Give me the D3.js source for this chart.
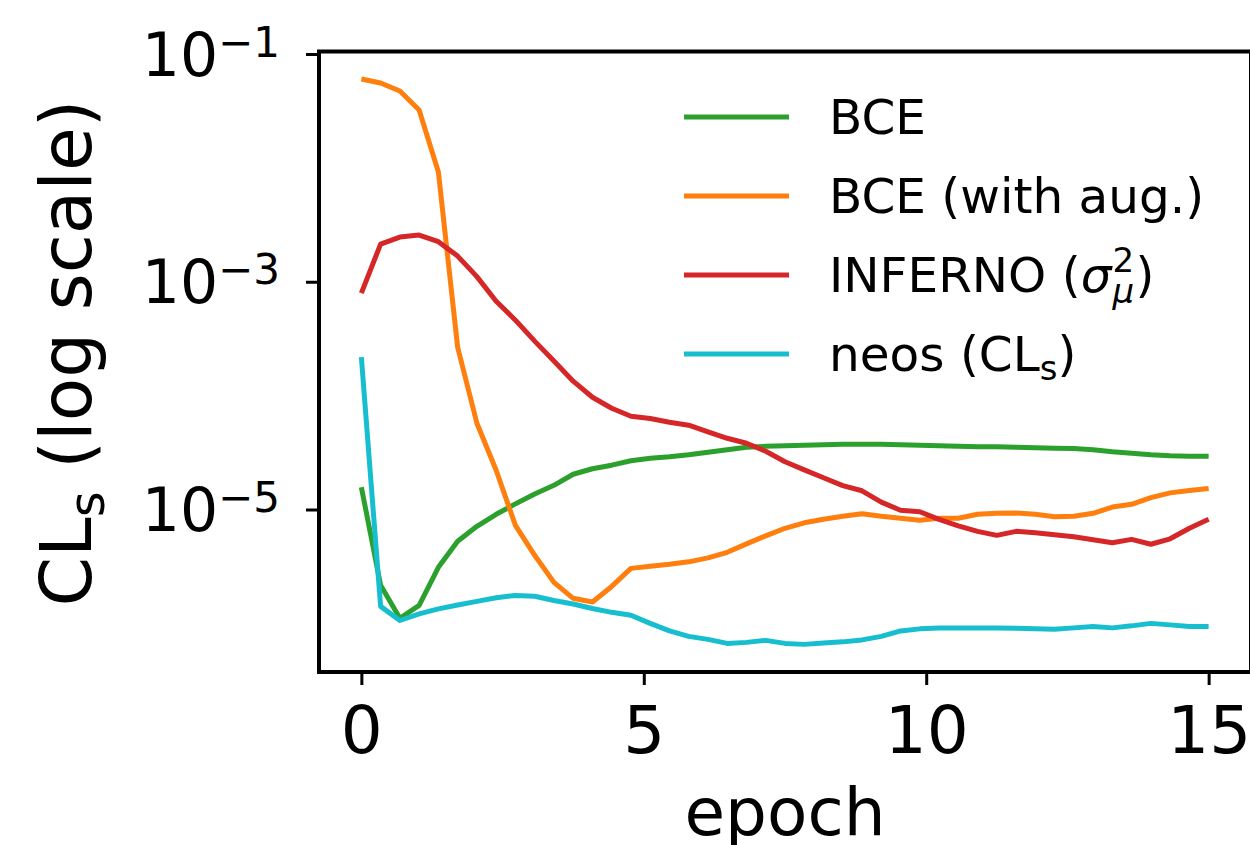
<!DOCTYPE html>
<html>

<head>
    <meta charset="utf-8" />
    <title>CLs during training</title>
    <script src="https://d3js.org/d3.v7.min.js" charset="utf-8"></script>

    <style type="text/css">
        body {
            margin: 0;
            background: #fff;
        }

        #chart svg {
            display: block;
            font-family: "DejaVu Sans", sans-serif;
        }

        #chart .line {
            fill: none;
            stroke-width: 5px;
            stroke-linejoin: round;
        }

        #chart .tick line {
            stroke: #000;
            stroke-width: 3px;
        }
    </style>
</head>

<body>

    <div id="chart"></div>

    <script>
        // 45 evaluations spread over 15 epochs
        var epochs = d3.range(45).map(function(i) {
            return i * 15 / 44
        })

        // CLs values
        var bce = [1.57e-5, 2.16e-6, 1.11e-6, 1.44e-6, 3.11e-6, 5.26e-6, 7.12e-6, 9.08e-6, 1.12e-5, 1.37e-5,
            1.63e-5, 2.04e-5, 2.28e-5, 2.45e-5, 2.68e-5, 2.82e-5, 2.90e-5, 3.02e-5, 3.18e-5, 3.35e-5,
            3.52e-5, 3.59e-5, 3.63e-5, 3.66e-5, 3.70e-5, 3.74e-5, 3.74e-5, 3.74e-5, 3.70e-5, 3.66e-5,
            3.63e-5, 3.59e-5, 3.56e-5, 3.56e-5, 3.52e-5, 3.48e-5, 3.45e-5, 3.43e-5, 3.35e-5, 3.21e-5,
            3.12e-5, 3.02e-5, 2.96e-5, 2.93e-5, 2.93e-5
        ]

        var bceAug = [6.03e-2, 5.56e-2, 4.73e-2, 3.22e-2, 9.19e-3, 2.66e-4, 5.72e-5, 2.21e-5, 7.26e-6, 3.96e-6,
            2.29e-6, 1.66e-6, 1.54e-6, 2.11e-6, 3.04e-6, 3.17e-6, 3.30e-6, 3.47e-6, 3.76e-6, 4.21e-6,
            4.99e-6, 5.87e-6, 6.84e-6, 7.64e-6, 8.20e-6, 8.71e-6, 9.17e-6, 8.71e-6, 8.37e-6, 8.04e-6,
            8.37e-6, 8.37e-6, 9.08e-6, 9.26e-6, 9.31e-6, 9.08e-6, 8.63e-6, 8.71e-6, 9.26e-6, 1.05e-5,
            1.11e-5, 1.27e-5, 1.40e-5, 1.47e-5, 1.53e-5
        ]

        var inferno = [7.94e-4, 2.14e-3, 2.47e-3, 2.57e-3, 2.25e-3, 1.68e-3, 1.11e-3, 6.75e-4, 4.60e-4, 3.01e-4,
            2.01e-4, 1.34e-4, 9.68e-5, 7.75e-5, 6.59e-5, 6.29e-5, 5.84e-5, 5.50e-5, 4.80e-5, 4.22e-5,
            3.82e-5, 3.25e-5, 2.63e-5, 2.23e-5, 1.90e-5, 1.62e-5, 1.46e-5, 1.16e-5, 9.84e-6, 9.55e-6,
            8.20e-6, 7.19e-6, 6.43e-6, 5.93e-6, 6.43e-6, 6.24e-6, 6.00e-6, 5.76e-6, 5.42e-6, 5.10e-6,
            5.47e-6, 4.95e-6, 5.53e-6, 6.84e-6, 8.20e-6
        ]

        var neos = [2.18e-4, 1.41e-6, 1.06e-6, 1.21e-6, 1.34e-6, 1.45e-6, 1.56e-6, 1.68e-6, 1.76e-6, 1.73e-6,
            1.59e-6, 1.48e-6, 1.35e-6, 1.25e-6, 1.18e-6, 1.00e-6, 8.59e-7, 7.69e-7, 7.24e-7, 6.67e-7,
            6.81e-7, 7.09e-7, 6.67e-7, 6.54e-7, 6.74e-7, 6.88e-7, 7.16e-7, 7.69e-7, 8.59e-7, 8.95e-7,
            9.09e-7, 9.13e-7, 9.13e-7, 9.09e-7, 9.04e-7, 8.95e-7, 8.86e-7, 9.13e-7, 9.41e-7, 9.13e-7,
            9.51e-7, 1.00e-6, 9.70e-7, 9.41e-7, 9.41e-7
        ]

        var seriesList = [bce, bceAug, inferno, neos]
        var colors = ["#2ca02c", "#ff7f0e", "#d62728", "#17becf"]
        var xTicks = [0, 5, 10, 15]
        var yTicks = [1e-1, 1e-3, 1e-5]
        var yTickExponents = ["\u22121", "\u22123", "\u22125"]

        // Frame of the axes (right spine sits just outside the picture)
        var frame = {
            left: 319,
            right: 1251,
            top: 51.5,
            bottom: 672
        }

        var xScale = d3.scaleLinear()
            .domain([-0.75, 15.75])
            .range([frame.left, frame.right])

        var yScale = d3.scaleLog()
            .domain([Math.pow(10, -6.427), Math.pow(10, -0.978)])
            .range([frame.bottom, frame.top])

        var svg = d3.select("#chart")
            .append("svg")
            .attr("width", 1250)
            .attr("height", 845)

        // Lines
        var dataLine = d3.line()
            .x(function(d, i) {
                return xScale(epochs[i])
            })
            .y(function(d) {
                return yScale(d)
            })

        svg.selectAll(".line")
            .data(seriesList)
            .enter()
            .append("path")
            .attr("class", "line")
            .attr("d", dataLine)
            .attr("stroke", function(d, i) {
                return colors[i]
            })

        // x axis
        var xAxis = svg.append("g")
            .attr("transform", "translate(0," + frame.bottom + ")")
            .call(d3.axisBottom(xScale).tickValues(xTicks).tickSize(13).tickSizeOuter(0))
        xAxis.select(".domain").remove()
        xAxis.selectAll("text")
            .attr("y", 81)
            .attr("dy", 0)
            .attr("fill", "#000")
            .style("font-size", "66px")
            .style("font-family", "DejaVu Sans, sans-serif")

        // y axis, labels written as powers of ten
        var yAxis = svg.append("g")
            .attr("transform", "translate(" + frame.left + ",0)")
            .call(d3.axisLeft(yScale).tickValues(yTicks).tickSize(13).tickSizeOuter(0).tickFormat(""))
        yAxis.select(".domain").remove()
        yAxis.selectAll(".tick text")
            .attr("x", -39)
            .attr("dy", 21)
            .attr("fill", "#000")
            .style("font-size", "60px")
            .style("font-family", "DejaVu Sans, sans-serif")
            .each(function(d, i) {
                var t = d3.select(this)
                t.append("tspan").text("10")
                t.append("tspan")
                    .attr("dy", -19)
                    .style("font-size", "42px")
                    .text(yTickExponents[i])
            })

        // spines
        svg.append("rect")
            .attr("x", frame.left)
            .attr("y", frame.top)
            .attr("width", frame.right - frame.left)
            .attr("height", frame.bottom - frame.top)
            .attr("fill", "none")
            .attr("stroke", "#000")
            .attr("stroke-width", 4)

        // axis labels
        svg.append("text")
            .attr("x", 785)
            .attr("y", 835)
            .attr("text-anchor", "middle")
            .style("font-size", "66px")
            .text("epoch")

        var yLabel = svg.append("text")
            .attr("transform", "translate(91,353) rotate(-90)")
            .attr("text-anchor", "middle")
            .style("font-size", "71px")
        yLabel.append("tspan").text("CL")
        yLabel.append("tspan").attr("dy", 13).style("font-size", "50px").text("s")
        yLabel.append("tspan").attr("dy", -13).text(" (log scale)")

        // legend
        var legendX = 684,
            legendTop = 117,
            legendStep = 79
        var legend = svg.append("g").style("font-size", "48.5px")

        colors.forEach(function(c, i) {
            var y = legendTop + i * legendStep
            legend.append("line")
                .attr("x1", legendX)
                .attr("x2", legendX + 105)
                .attr("y1", y)
                .attr("y2", y)
                .attr("stroke", c)
                .attr("stroke-width", 5)
        })

        function legendText(i) {
            return legend.append("text")
                .attr("x", 829)
                .attr("y", legendTop + i * legendStep + 17)
        }

        legendText(0).text("BCE")
        legendText(1).text("BCE (with aug.)")

        var inf = legendText(2)
        inf.append("tspan").text("INFERNO (")
        inf.append("tspan").style("font-style", "italic").text("\u03c3")
        var infW = inf.node().getComputedTextLength()
        var infY = legendTop + 2 * legendStep + 17
        legend.append("text")
            .attr("x", 829 + infW + 1)
            .attr("y", infY - 20)
            .style("font-size", "34px")
            .text("2")
        legend.append("text")
            .attr("x", 829 + infW + 1)
            .attr("y", infY + 11)
            .style("font-size", "34px")
            .style("font-style", "italic")
            .text("\u03bc")
        legend.append("text")
            .attr("x", 829 + infW + 24)
            .attr("y", infY)
            .text(")")

        var ne = legendText(3)
        ne.append("tspan").text("neos (CL")
        ne.append("tspan").attr("dy", 9).style("font-size", "34px").text("s")
        ne.append("tspan").attr("dy", -9).text(")")
    </script>

</body>

</html>
